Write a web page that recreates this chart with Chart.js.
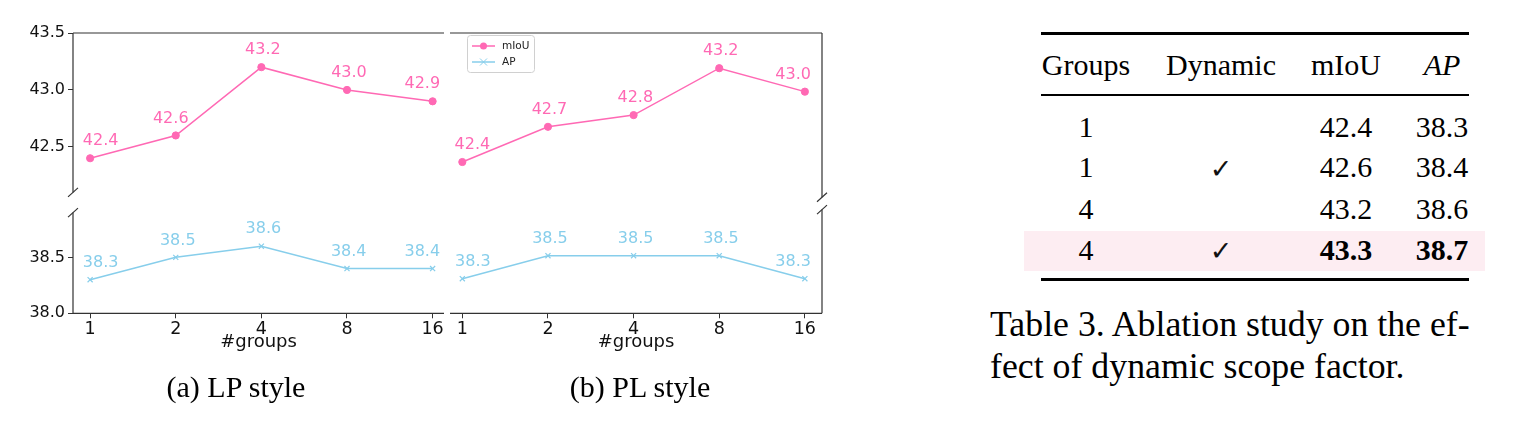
<!DOCTYPE html>
<html><head><meta charset="utf-8">
<script src="https://cdn.jsdelivr.net/npm/chart.js@4.4.1/dist/chart.umd.min.js"></script>
<style>
html,body{margin:0;padding:0;background:#fff;width:1527px;height:436px;overflow:hidden;position:relative;}
canvas.c{position:absolute;}
.t{position:absolute;font-family:'Liberation Serif','Times New Roman',serif;color:#000;white-space:nowrap;}
.rule{position:absolute;background:#000;}
</style></head><body>
<canvas id="aTop" class="c" style="left:0;top:0" width="460" height="205"></canvas>
<canvas id="aBot" class="c" style="left:0;top:200px" width="460" height="175"></canvas>
<canvas id="bTop" class="c" style="left:440px;top:0" width="400" height="205"></canvas>
<canvas id="bBot" class="c" style="left:440px;top:200px" width="400" height="175"></canvas>
<div id="tbl"></div>
<script>
// ---------------- data ----------------
const groups = ['1', '2', '4', '8', '16'];
const lpMiou = [42.4, 42.6, 43.2, 43.0, 42.9];
const lpAP   = [38.3, 38.5, 38.6, 38.4, 38.4];
const plMiou = [42.4, 42.7, 42.8, 43.2, 43.0];
const plAP   = [38.3, 38.5, 38.5, 38.5, 38.3];
const seriesNames = ['mIoU', 'AP'];
const topTicks = [42.5, 43.0, 43.5];
const bottomTicks = [38.0, 38.5];
const xTitle = '#groups';
const subCaptions = ['(a) LP style', '(b) PL style'];
const tableHeader = ['Groups', 'Dynamic', 'mIoU', 'AP'];
const tableGroups = ['1', '1', '4', '4'];
const tableDynamic = [false, true, false, true];
const tableMiou = [42.4, 42.6, 43.2, 43.3];
const tableAP = [38.3, 38.4, 38.6, 38.7];
const tableCaption = ['Table 3. Ablation study on the ef-', 'fect of dynamic scope factor.'];

// ---------------- style ----------------
const PINK = '#ff69b4', BLUE = '#87ceeb', AXIS = '#333';
// horizontal nudges (px) of the value labels, as placed in the original figure
const dxA_top = [10.5, -5, 1.5, 2, -10.3];
const dxA_bot = [10.5, 2, 2, 1.7, -10.3];
const dxB_top = [10, 1.5, 1.7, 1.5, -11.7];
const dxB_bot = [10.5, 2, 2, 1.7, -11.7];

Chart.defaults.font.family = "'DejaVu Sans', sans-serif";
Chart.defaults.font.size = 16;
Chart.defaults.color = '#111';
Chart.defaults.animation = false;

const labelPlugin = {
  id: 'vlabels',
  afterDatasetsDraw(chart, args, opts) {
    const ctx = chart.ctx;
    const dx = opts.dx || [];
    chart.data.datasets.forEach((ds, di) => {
      const meta = chart.getDatasetMeta(di);
      ctx.save();
      ctx.font = "16px 'DejaVu Sans', sans-serif";
      ctx.fillStyle = ds.borderColor;
      ctx.textAlign = 'center';
      ctx.textBaseline = 'middle';
      meta.data.forEach((pt, i) => {
        ctx.fillText(ds.data[i].y.toFixed(1), pt.x + (dx[i] || 0), pt.y - 17);
      });
      ctx.restore();
    });
  }
};

const framePlugin = {
  id: 'frame',
  afterDraw(chart, args, opts) {
    const {left, right, top, bottom} = chart.chartArea;
    const ctx = chart.ctx;
    ctx.save();
    ctx.strokeStyle = AXIS;
    ctx.lineWidth = 1.2;
    ctx.beginPath();
    const s = opts.sides || '';
    if (s.includes('l')) { ctx.moveTo(left, top); ctx.lineTo(left, bottom); }
    if (s.includes('r')) { ctx.moveTo(right, top); ctx.lineTo(right, bottom); }
    if (s.includes('t')) { ctx.moveTo(left, top); ctx.lineTo(right, top); }
    if (s.includes('b')) { ctx.moveTo(left, bottom); ctx.lineTo(right, bottom); }
    ctx.stroke();
    if (opts.brk) {
      const bx = opts.brk.side === 'l' ? left : right;
      const by = opts.brk.at === 'b' ? bottom : top;
      ctx.beginPath();
      ctx.moveTo(bx - 5, by + 4.5);
      ctx.lineTo(bx + 5, by - 4.5);
      ctx.stroke();
    }
    ctx.restore();
  }
};

const legendPlugin = {
  id: 'miniLegend',
  afterDraw(chart, args, opts) {
    if (!opts.show) return;
    const ctx = chart.ctx;
    const x0 = opts.x, y0 = opts.y, w = 67, h = 37;
    ctx.save();
    ctx.fillStyle = 'rgba(255,255,255,0.85)';
    ctx.strokeStyle = '#d0d0d0';
    ctx.lineWidth = 1;
    ctx.beginPath();
    ctx.roundRect(x0 + 0.5, y0 + 0.5, w, h, 3);
    ctx.fill(); ctx.stroke();
    const cols = [PINK, BLUE];
    seriesNames.forEach((name, i) => {
      const cy = y0 + 11 + i * 16;
      ctx.strokeStyle = cols[i];
      ctx.fillStyle = cols[i];
      ctx.lineWidth = 1.5;
      ctx.beginPath(); ctx.moveTo(x0 + 5, cy); ctx.lineTo(x0 + 28, cy); ctx.stroke();
      const mx = x0 + 16.5;
      if (i === 0) {
        ctx.beginPath(); ctx.arc(mx, cy, 3.5, 0, Math.PI * 2); ctx.fill();
      } else {
        ctx.lineWidth = 1;
        ctx.beginPath();
        ctx.moveTo(mx - 3.5, cy - 3.5); ctx.lineTo(mx + 3.5, cy + 3.5);
        ctx.moveTo(mx + 3.5, cy - 3.5); ctx.lineTo(mx - 3.5, cy + 3.5);
        ctx.stroke();
      }
      ctx.fillStyle = '#222';
      ctx.font = "10.5px 'DejaVu Sans', sans-serif";
      ctx.textAlign = 'left';
      ctx.textBaseline = 'middle';
      ctx.fillText(name, x0 + 35, cy);
    });
    ctx.restore();
  }
};

function makeChart(id, cfg) {
  const pts = cfg.values.map((v, i) => ({x: i, y: v}));
  const isTop = cfg.part === 'top';
  return new Chart(document.getElementById(id), {
    type: 'line',
    data: {
      datasets: [{
        label: cfg.name,
        data: pts,
        borderColor: cfg.color,
        backgroundColor: cfg.color,
        borderWidth: 1.5,
        pointStyle: cfg.marker,
        pointRadius: 3.6,
        pointBorderWidth: cfg.marker === 'crossRot' ? 1.2 : 1,
        pointBackgroundColor: cfg.color,
        pointBorderColor: cfg.color,
        tension: 0,
        clip: false
      }]
    },
    options: {
      responsive: false,
      layout: {padding: cfg.padding},
      plugins: {
        legend: {display: false},
        tooltip: {enabled: false},
        frame: {sides: cfg.sides, brk: cfg.brk},
        vlabels: {dx: cfg.dx},
        miniLegend: {show: !!cfg.legend, x: cfg.legend ? cfg.legend.x : 0, y: cfg.legend ? cfg.legend.y : 0}
      },
      scales: {
        x: {
          type: 'linear',
          display: !isTop,
          min: cfg.xmin, max: cfg.xmax,
          afterBuildTicks: s => { s.ticks = groups.map((g, i) => ({value: i})); },
          afterFit: s => { if (!isTop) s.height = 40; },
          ticks: {callback: v => groups[v], maxRotation: 0, autoSkip: false, padding: 1, color: '#111', font: {size: 17.5}},
          grid: {display: true, drawOnChartArea: false, drawTicks: true, tickLength: 5, color: AXIS, lineWidth: 1},
          border: {display: false},
          title: {display: true, text: xTitle, padding: {top: 0, bottom: 0}, color: '#111', font: {size: 18}}
        },
        y: {
          type: 'linear',
          display: cfg.showY,
          min: cfg.ymin, max: cfg.ymax,
          afterBuildTicks: s => { s.ticks = cfg.ticks.map(v => ({value: v})); },
          afterFit: s => { if (cfg.showY) s.width = 73; },
          ticks: {callback: v => Number(v).toFixed(1), padding: 3, color: '#111', font: {size: 16}},
          grid: {display: true, drawOnChartArea: false, drawTicks: true, tickLength: 5, color: AXIS, lineWidth: 1},
          border: {display: false}
        }
      }
    },
    plugins: [framePlugin, labelPlugin, legendPlugin]
  });
}

// (a) LP style
makeChart('aTop', {part: 'top', values: lpMiou, name: seriesNames[0], color: PINK, marker: 'circle', dx: dxA_top,
  ymin: 42.1, ymax: 43.5, ticks: topTicks, showY: true, xmin: -0.2, xmax: 4.133,
  padding: {top: 33, right: 16, bottom: 7.8, left: 0}, sides: 'lt', brk: {side: 'l', at: 'b'}});
makeChart('aBot', {part: 'bottom', values: lpAP, name: seriesNames[1], color: BLUE, marker: 'crossRot', dx: dxA_bot,
  ymin: 38.0, ymax: 38.9, ticks: bottomTicks, showY: true, xmin: -0.2, xmax: 4.133,
  padding: {top: 9.6, right: 16, bottom: 21.7, left: 0}, sides: 'lb', brk: {side: 'l', at: 't'}});
// (b) PL style
makeChart('bTop', {part: 'top', values: plMiou, name: seriesNames[0], color: PINK, marker: 'circle', dx: dxB_top,
  ymin: 42.1, ymax: 43.5, ticks: topTicks, showY: false, xmin: -0.144, xmax: 4.2,
  padding: {top: 33, right: 18, bottom: 7.8, left: 10}, sides: 'rt', brk: {side: 'r', at: 'b'},
  legend: {x: 27, y: 35}});
makeChart('bBot', {part: 'bottom', values: plAP, name: seriesNames[1], color: BLUE, marker: 'crossRot', dx: dxB_bot,
  ymin: 38.0, ymax: 38.9, ticks: bottomTicks, showY: false, xmin: -0.144, xmax: 4.2,
  padding: {top: 9.6, right: 18, bottom: 21.7, left: 10}, sides: 'rb', brk: {side: 'r', at: 't'}});

// ---------------- captions & table (HTML text) ----------------
const root = document.getElementById('tbl');
function txt(s, cx, baseline, size, extra) {
  const d = document.createElement('div');
  d.className = 't';
  d.textContent = s;
  d.style.fontSize = size + 'px';
  d.style.lineHeight = size + 'px';
  d.style.width = '300px';
  d.style.textAlign = 'center';
  d.style.left = (cx - 150) + 'px';
  d.style.top = (baseline - size / 2 - 0.3375 * size) + 'px';
  if (extra) Object.assign(d.style, extra);
  root.appendChild(d);
  return d;
}
function rule(x, y, w, h, color) {
  const d = document.createElement('div');
  d.className = 'rule';
  Object.assign(d.style, {left: x + 'px', top: y + 'px', width: w + 'px', height: h + 'px'});
  if (color) d.style.background = color;
  root.appendChild(d);
}
txt(subCaptions[0], 236, 397, 30);
txt(subCaptions[1], 640, 397, 30);

rule(1024, 231, 461, 40, '#fdedf2');
rule(1041, 32.3, 428, 2.8);
rule(1041, 94, 428, 1.9);
rule(1041, 278.2, 428, 2.8);

const colX = [1086, 1221, 1346, 1442];
const rowBase = [136.7, 177.3, 219, 260];
tableHeader.forEach((h, i) => txt(h, colX[i], 75, 30, i === 3 ? {fontStyle: 'italic'} : null));
tableGroups.forEach((g, r) => {
  const best = r === tableGroups.length - 1;
  txt(g, colX[0], rowBase[r], 30);
  if (tableDynamic[r]) txt('\u2713', colX[1], rowBase[r], 27, {fontFamily: "'DejaVu Sans',sans-serif", color: '#111'});
  txt(tableMiou[r].toFixed(1), colX[2], rowBase[r], 30, best ? {fontWeight: 'bold'} : null);
  txt(tableAP[r].toFixed(1), colX[3], rowBase[r], 30, best ? {fontWeight: 'bold'} : null);
});
tableCaption.forEach((line, i) => {
  const d = txt(line, 0, 337.3 + i * 42, 35.8);
  d.style.left = '990px';
  d.style.width = 'auto';
  d.style.textAlign = 'left';
  if (i === 0) {
    const w = d.getBoundingClientRect().width;
    const spaces = (line.match(/ /g) || []).length;
    if (w < 476 && spaces) d.style.wordSpacing = ((476 - w) / spaces) + 'px';
  }
});
</script>
</body></html>
